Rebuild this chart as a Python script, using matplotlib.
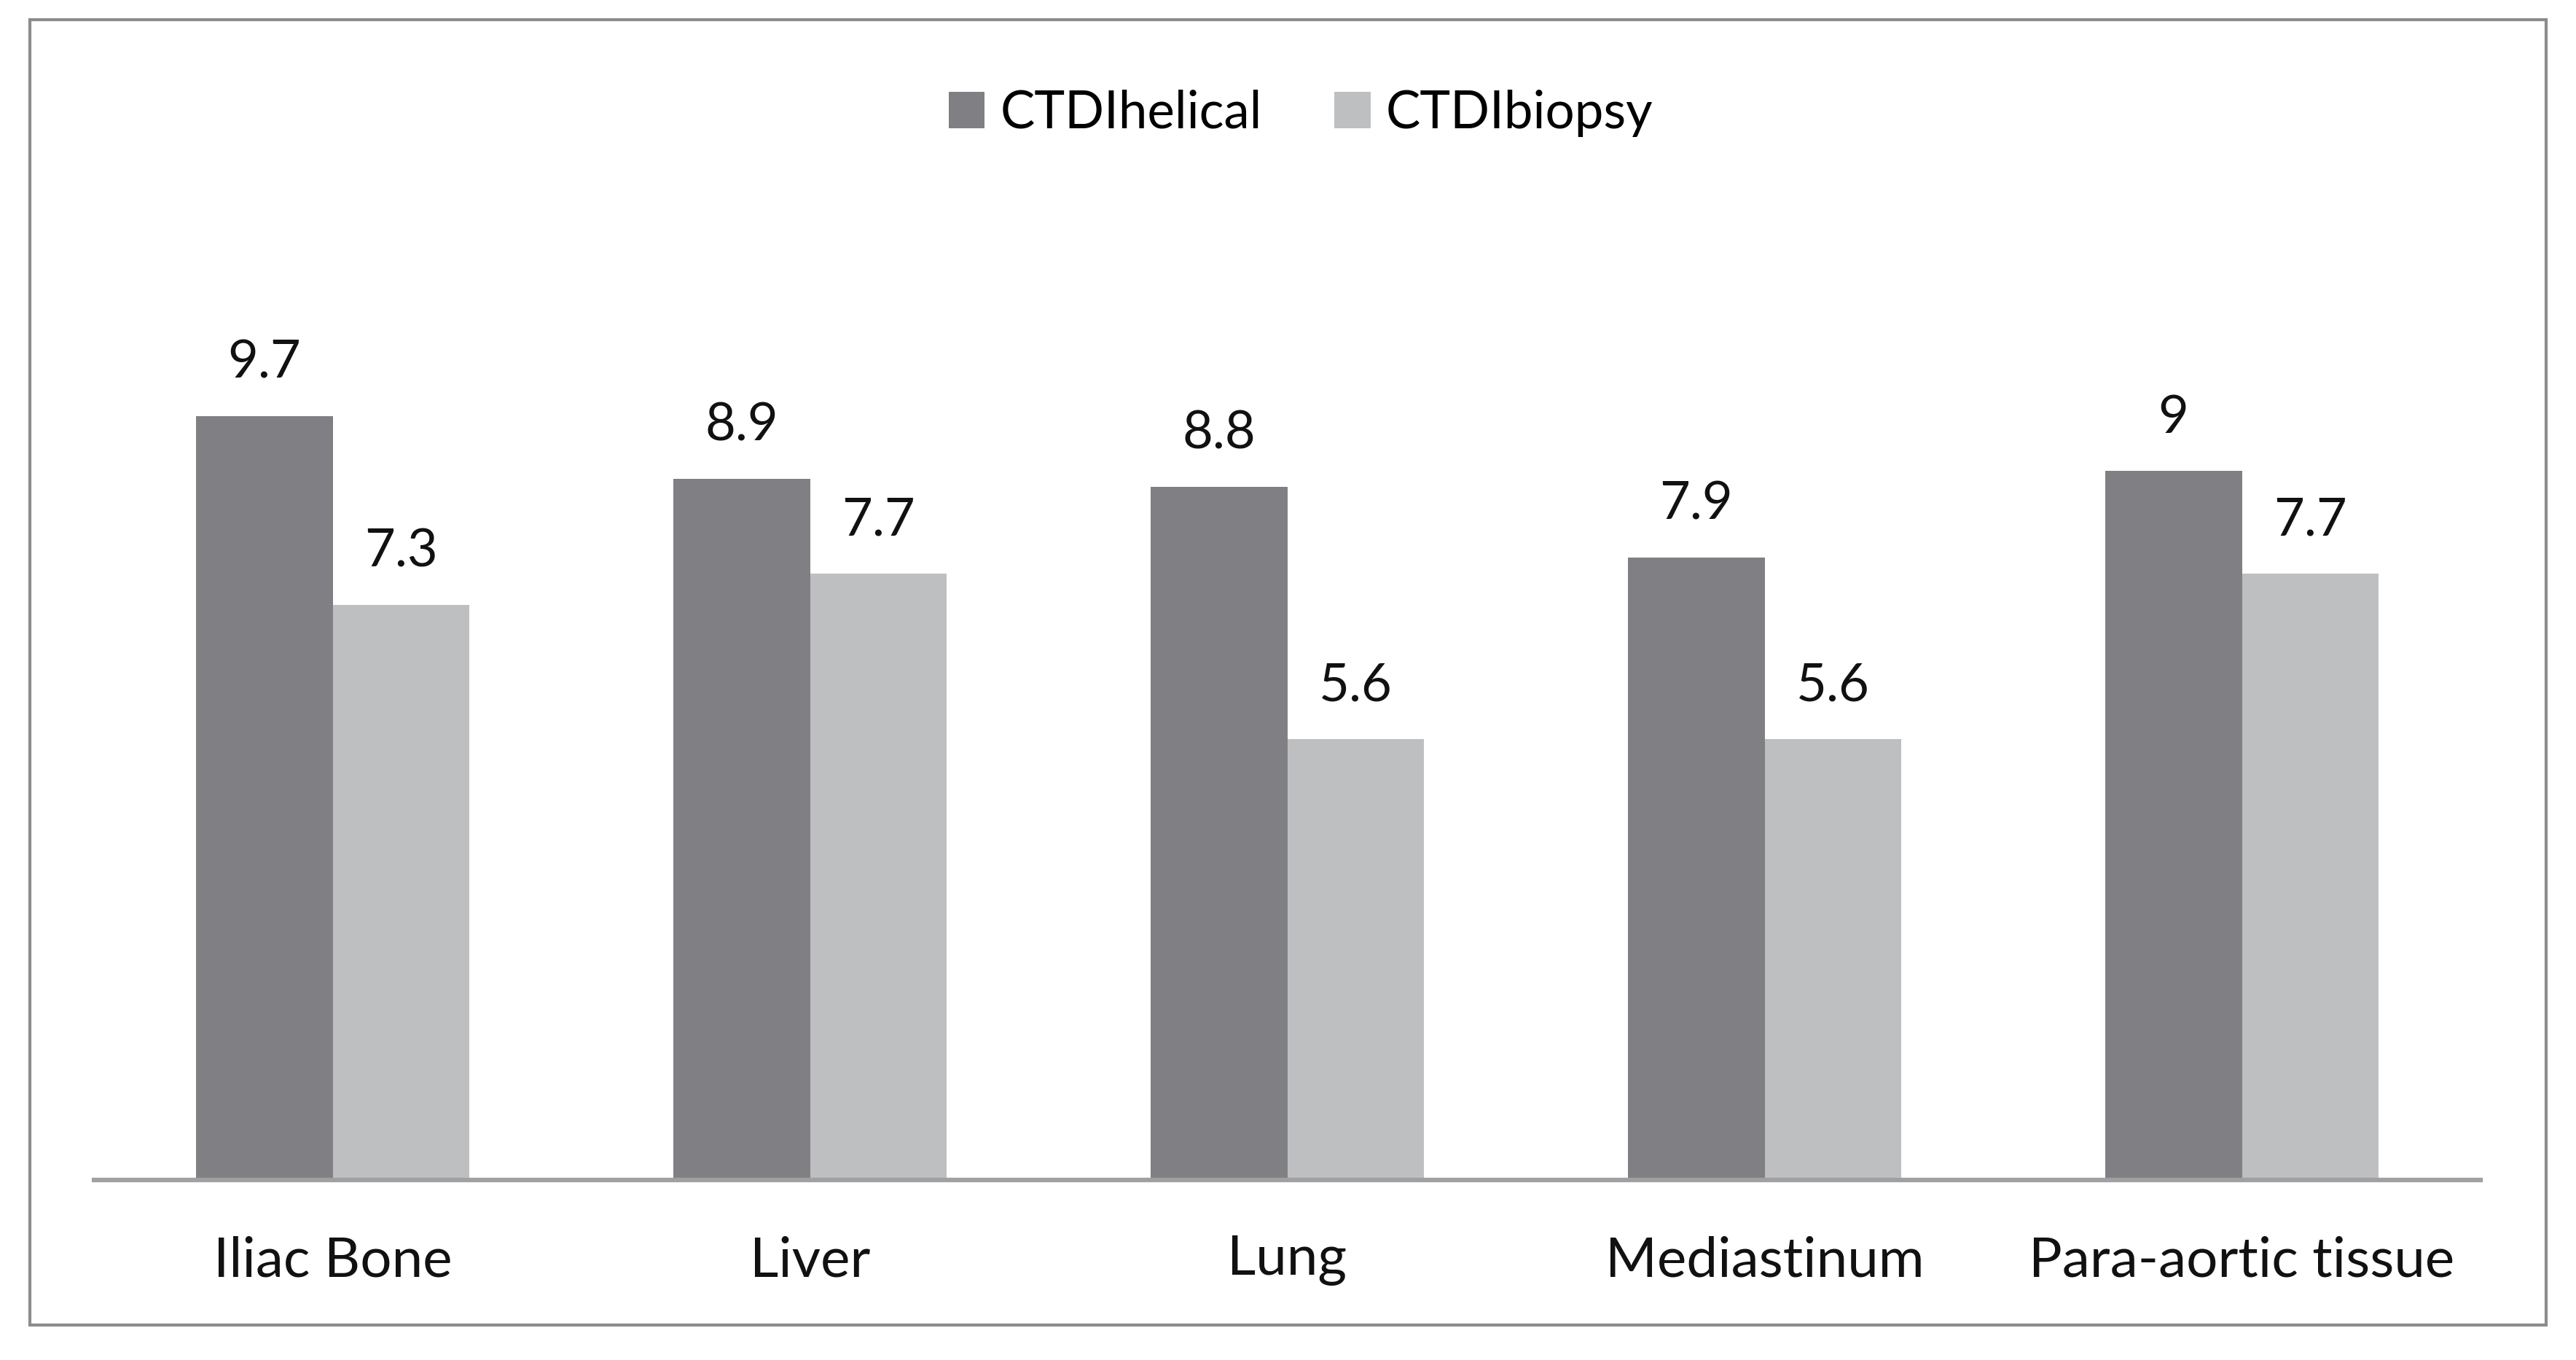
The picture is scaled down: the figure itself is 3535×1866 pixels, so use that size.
import matplotlib.pyplot as plt
import matplotlib.patches as mpatches
import numpy as np

categories = ["Iliac Bone", "Liver", "Lung", "Mediastinum", "Para-aortic tissue"]
ctdi_helical = [9.7, 8.9, 8.8, 7.9, 9.0]
ctdi_biopsy = [7.3, 7.7, 5.6, 5.6, 7.7]
labels_helical = ["9.7", "8.9", "8.8", "7.9", "9"]
labels_biopsy = ["7.3", "7.7", "5.6", "5.6", "7.7"]

plt.rcParams['font.family'] = ['Lato', 'DejaVu Sans']

W, H = 3535, 1866
fig = plt.figure(figsize=(W / 100, H / 100), dpi=100)

# outer frame
fig.patches.append(mpatches.Rectangle((41 / W, 1 - 1818 / H), (3494 - 41) / W, (1818 - 27) / H,
                                      transform=fig.transFigure, fill=False,
                                      edgecolor="#8c8c8c", linewidth=3))

ax = fig.add_axes([129 / W, 1 - 1619 / H, (3404 - 129) / W, (1619 - 322) / H])

x = np.arange(len(categories))
w = 0.287
b1 = ax.bar(x - w / 2, ctdi_helical, w, color="#808084", label="CTDIhelical")
b2 = ax.bar(x + w / 2, ctdi_biopsy, w, color="#bebfc1", label="CTDIbiopsy")

for bars, labs in [(b1, labels_helical), (b2, labels_biopsy)]:
    for bar, lab in zip(bars, labs):
        ax.annotate(lab, (bar.get_x() + bar.get_width() / 2, bar.get_height()),
                    xytext=(0, 29), textcoords="offset points",
                    ha="center", va="bottom", fontsize=52, color="#111111")

ax.set_xlim(-0.5, len(categories) - 0.5)
ax.set_ylim(0, 12)
ax.set_xticks(x)
ax.set_xticklabels(categories, fontsize=55, color="#111111")
ax.tick_params(axis="x", length=0, pad=55)
ax.set_yticks([])
for s in ["top", "left", "right"]:
    ax.spines[s].set_visible(False)
ax.spines["bottom"].set_color("#a0a0a3")
ax.spines["bottom"].set_linewidth(4.5)

fig.legend(handles=[b1, b2], loc="center", bbox_to_anchor=(0.505, 1 - 155 / H), ncol=2,
           frameon=False, fontsize=51, handlelength=0.7, handleheight=0.7,
           handletextpad=0.3, columnspacing=1.4)

fig.savefig("out.png", dpi=100)
